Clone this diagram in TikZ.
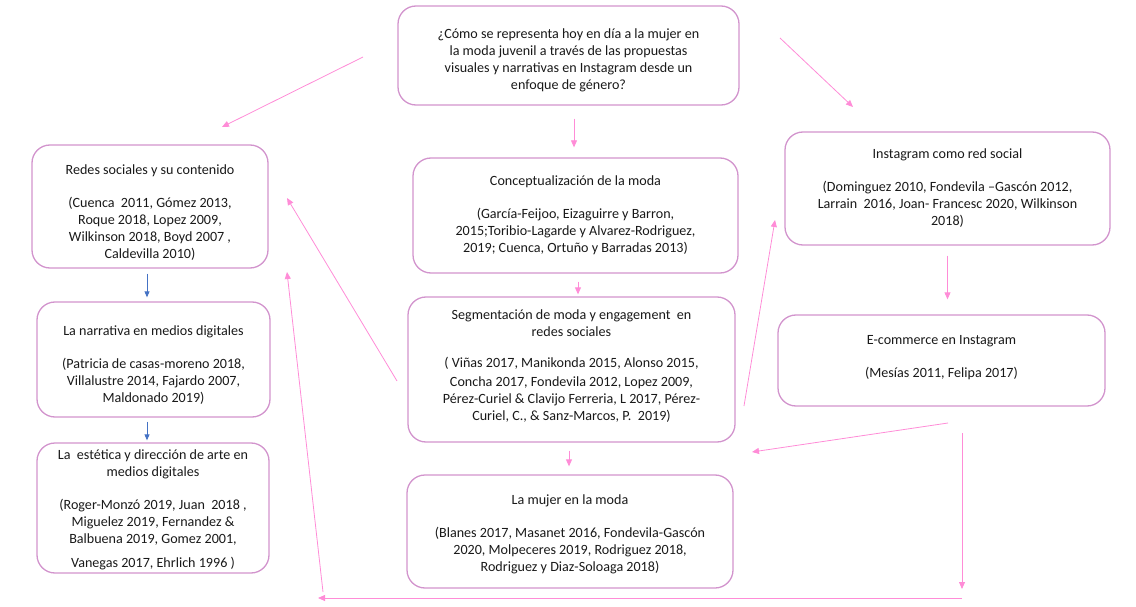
\documentclass[tikz,border=0pt]{standalone}
\usepackage{fontspec}
\setmainfont{Carlito}
\usetikzlibrary{arrows.meta}
\definecolor{borde}{RGB}{210,148,205}
\definecolor{rosa}{RGB}{255,140,215}
\definecolor{azul}{RGB}{68,114,196}
\newcommand{\alto}[1]{\rule{0pt}{#1}}
\tikzset{
  caja/.style={draw=borde, line width=1.3pt, rounded corners=18pt, align=center,
    inner sep=0pt, text=black!90, font=\fontsize{14.1}{17}\selectfont},
  abajo/.style={execute at end node={\rule[-#1]{0pt}{0pt}}},
  flecha/.style={rosa, line width=0.8pt, -{Triangle[length=7pt,width=6pt]}},
  flechaazul/.style={azul, line width=0.8pt, -{Triangle[length=6pt,width=5pt]}}
}
\begin{document}
\begin{tikzpicture}[x=1pt,y=-1pt]
  \useasboundingbox (0,0) rectangle (1136,607);

  % pregunta central
  \node[caja, minimum width=341pt, minimum height=99pt] (pregunta) at (568.5,55.5)
    {\alto{18.5pt}¿Cómo se representa hoy en día a la mujer en\\la moda juvenil a través de las propuestas\\visuales y narrativas en Instagram desde un\\enfoque de género?};

  % columna izquierda
  \node[caja, minimum width=236pt, minimum height=123pt] (redes) at (150,206.5)
    {\alto{22pt}Redes sociales y su contenido\\[16pt](Cuenca\ \ 2011, Gómez 2013,\\Roque 2018, Lopez 2009,\\Wilkinson 2018, Boyd 2007 ,\\Caldevilla 2010)};
  \node[caja, minimum width=233pt, minimum height=115pt] (narrativa) at (153.5,359.5)
    {\alto{20.5pt}La narrativa en medios digitales\\[16pt](Patricia de casas-moreno 2018,\\Villalustre 2014, Fajardo 2007,\\Maldonado 2019)};
  \node[caja, minimum width=232pt, minimum height=130pt] (estetica) at (153,508)
    {\alto{14pt}La\ \ estética y dirección de arte en\\medios digitales\\[16pt](Roger-Monzó 2019, Juan\ \ 2018 ,\\Miguelez 2019, Fernandez \&\\Balbuena 2019, Gomez 2001,\\[7pt]Vanegas 2017,\ Ehrlich 1996 )};

  % columna central
  \node[caja, minimum width=325pt, minimum height=115pt] (concepto) at (575.5,215.5)
    {Conceptualización de la moda\\[16pt](García-Feijoo, Eizaguirre y Barron,\\2015;Toribio-Lagarde y Alvarez-Rodriguez,\\2019; Cuenca, Ortuño y Barradas 2013)};
  \node[caja, abajo=9pt, minimum width=327pt, minimum height=145pt] (segmento) at (571.5,369.5)
    {Segmentación de moda y engagement\ \ en\\redes sociales\\[14pt]( Viñas 2017, Manikonda 2015, Alonso 2015,\\[2pt]Concha 2017, Fondevila 2012, Lopez 2009,\\Pérez-Curiel \& Clavijo Ferreria, L 2017, Pérez-\\Curiel, C., \& Sanz-Marcos, P.\ \ 2019)};
  \node[caja, minimum width=326pt, minimum height=113pt] (mujer) at (570,531.5)
    {\alto{16pt}La mujer en la moda\\[16pt](Blanes 2017, Masanet 2016, Fondevila-Gascón\\2020, Molpeceres 2019, Rodriguez 2018,\\Rodriguez y Diaz-Soloaga 2018)};

  % columna derecha
  \node[caja, minimum width=325pt, minimum height=113pt] (instagram) at (947.5,188.5)
    {Instagram como red social\\[16pt](Dominguez 2010, Fondevila --Gascón 2012,\\Larrain\ \ 2016, Joan- Francesc 2020, Wilkinson\\2018)};
  \node[caja, abajo=8pt, minimum width=327pt, minimum height=91pt] (ecommerce) at (941.5,360.5)
    {E-commerce en Instagram\\[16pt](Mesías 2011, Felipa 2017)};

  % extremos sueltos
  \coordinate (p1) at (363,57);   \coordinate (p2) at (222,127);
  \coordinate (p3) at (780,38);   \coordinate (p4) at (853,107);
  \coordinate (p5) at (397,381);  \coordinate (p6) at (287,198);
  \coordinate (p7) at (323,592);  \coordinate (p8) at (287,272);
  \coordinate (p9) at (962,433);  \coordinate (p10) at (962,589);
  \coordinate (p11) at (962,598); \coordinate (p12) at (318,598);
  \coordinate (p13) at (948,423); \coordinate (p14) at (752,452);
  \coordinate (p15) at (744,406); \coordinate (p16) at (775,220);

  % flechas
  \draw[flecha] (p1) -- (p2);
  \draw[flecha] (p3) -- (p4);
  \draw[flecha, shorten <=13pt, shorten >=10pt] ([xshift=5.5pt]pregunta.south) -- ([xshift=-1.5pt]concepto.north);
  \draw[flecha, shorten <=8pt, shorten >=2pt] ([xshift=2.5pt]concepto.south) -- ([xshift=6.5pt]segmento.north);
  \draw[flecha, shorten <=8pt, shorten >=8pt] ([xshift=-2.5pt]segmento.south) -- ([xshift=-1pt]mujer.north);
  \draw[flecha, shorten <=10pt, shorten >=15pt] (instagram.south) -- ([xshift=6pt]ecommerce.north);
  \draw[flecha] (p5) -- (p6);
  \draw[flecha] (p7) -- (p8);
  \draw[flecha] (p9) -- (p10);
  \draw[flecha] (p11) -- (p12);
  \draw[flecha] (p13) -- (p14);
  \draw[flecha] (p15) -- (p16);
  \draw[flechaazul, shorten <=5pt, shorten >=4pt] ([xshift=-3pt]redes.south) -- ([xshift=-6.5pt]narrativa.north);
  \draw[flechaazul, shorten <=4pt, shorten >=2pt] ([xshift=-6.5pt]narrativa.south) -- ([xshift=-6pt]estetica.north);
\end{tikzpicture}
\end{document}
